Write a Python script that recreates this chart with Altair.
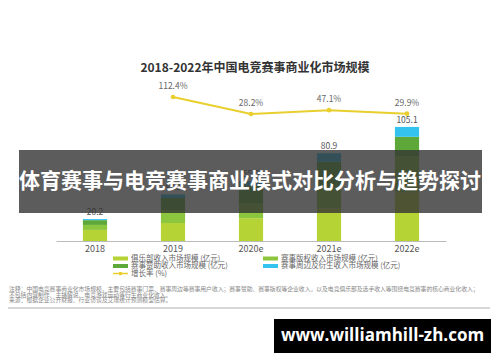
import altair as alt
import pandas as pd

# ---------------- data ----------------
years = ["2018", "2019", "2020e", "2021e", "2022e"]
club = [10.2, 16.6, 21.0, 30.0, 45.0]
rights = [4.6, 12.0, 14.0, 20.0, 33.0]
sponsor = [4.4, 11.0, 16.0, 23.0, 18.0]
merch = [1.0, 3.3, 4.0, 7.9, 9.1]
totals = [20.2, 42.9, 55.0, 80.9, 105.1]
growth_years = ["2019", "2020e", "2021e", "2022e"]
growth = [112.4, 28.2, 47.1, 29.9]
series_names = ["俱乐部收入市场规模（亿元）", "赛事版权收入市场规模（亿元）",
                "赛事赞助收入市场规模（亿元）", "赛事周边及衍生收入市场规模（亿元）"]
growth_name = "增长率（%）"
title_text = "2018-2022年中国电竞赛事商业化市场规模"
notes = [
    "注释：中国电竞赛事商业化市场规模，主要包括赛事门票、赛事周边等赛事用户收入；赛事赞助、赛事版权等企业收入，以及电竞俱乐部及选手收入等围绕电竞赛事的核心商业化收入；",
    "不包括内容制作、主播解说、电竞游戏运动等衍生商业化收入。",
    "来源：根据企业公开财报、行业访谈及艾瑞统计预测模型估算。",
]
banner_text = "体育赛事与电竞赛事商业模式对比分析与趋势探讨"
watermark_text = "www.williamhill-zh.com"

colors = ["#b5d334", "#8cc63f", "#5ea83a", "#33c3ee"]
line_color = "#e9cf2e"
FONT = "Noto Sans CJK SC"

# ---------------- tables ----------------
rows = []
for i, name in enumerate(series_names):
    vals = [club, rights, sponsor, merch][i]
    for y, v in zip(years, vals):
        rows.append({"year": y, "series": name, "value": v, "order": i})
bars_df = pd.DataFrame(rows)
tot_df = pd.DataFrame({"year": years, "total": totals})
gr_df = pd.DataFrame({"year": growth_years, "growth": growth,
                      "label": [f"{g:.1f}%" for g in growth]})

W, H = 390, 163
x_enc = alt.X("year:N", sort=years,
              scale=alt.Scale(paddingInner=0.69, paddingOuter=0.345),
              axis=alt.Axis(title=None, labelAngle=0, ticks=False, domainColor="#bbbbbb",
                            labelColor="#555555", labelFontSize=9, labelPadding=3,
                            labelFont=FONT, grid=False))
y_bar_scale = alt.Scale(domain=[0, 150.2], nice=False, zero=True)
y_gr_scale = alt.Scale(domain=[-600.5, 206.4], nice=False, zero=False)

bars = alt.Chart(bars_df).mark_bar().encode(
    x=x_enc,
    y=alt.Y("value:Q", stack="zero", scale=y_bar_scale, axis=None),
    color=alt.Color("series:N", scale=alt.Scale(domain=series_names, range=colors), legend=None),
    order=alt.Order("order:Q", sort="ascending"),
)
tot_text = alt.Chart(tot_df).mark_text(dy=-7, fontSize=8.5, color="#555555", font=FONT).encode(
    x=x_enc,
    y=alt.Y("total:Q", scale=y_bar_scale, axis=None),
    text=alt.Text("total:Q", format=".1f"),
)
line = alt.Chart(gr_df).mark_line(color=line_color, strokeWidth=2).encode(
    x=x_enc,
    y=alt.Y("growth:Q", scale=y_gr_scale, axis=None),
)
pts = alt.Chart(gr_df).mark_point(filled=True, color=line_color, size=22, opacity=1).encode(
    x=x_enc,
    y=alt.Y("growth:Q", scale=y_gr_scale, axis=None),
)
gr_text = alt.Chart(gr_df).mark_text(dy=-11, fontSize=8.5, color="#666666", font=FONT).encode(
    x=x_enc,
    y=alt.Y("growth:Q", scale=y_gr_scale, axis=None),
    text="label:N",
)

one = pd.DataFrame({"d": [0]})


def txt(s, x, y, size, color, weight="normal", align="left", font=FONT):
    return alt.Chart(one).mark_text(text=s, fontSize=size, color=color, fontWeight=weight,
                                    align=align, baseline="middle", font=font).encode(
        x=alt.value(x), y=alt.value(y))


def rect(x1, x2, y1, y2, color, opacity=1.0):
    return alt.Chart(one).mark_rect(color=color, opacity=opacity).encode(
        x=alt.value(x1), x2=alt.value(x2), y=alt.value(y1), y2=alt.value(y2))


annos = []
# title
annos.append(txt(title_text, 199, -10, 12, "#333333", weight="bold", align="center"))
# legend
leg_pos = [(57, 180.5), (207, 180.5), (57, 188), (207, 188)]
for i, (lx, ly) in enumerate(leg_pos):
    annos.append(rect(lx, lx + 15, ly - 2, ly + 2, colors[i]))
    annos.append(txt(series_names[i].replace("（", " (").replace("）", ")"),
                     lx + 18, ly, 7.5, "#666666"))
annos.append(alt.Chart(one).mark_rule(color=line_color, strokeWidth=1.5).encode(
    x=alt.value(57), x2=alt.value(72), y=alt.value(195.5)))
annos.append(alt.Chart(one).mark_point(filled=True, color=line_color, size=14, opacity=1).encode(
    x=alt.value(64.5), y=alt.value(195.5)))
annos.append(txt(growth_name.replace("（", " (").replace("）", ")"), 75, 195.5, 7.5, "#666666"))
# notes
for i, n in enumerate(notes):
    annos.append(txt(n, -47, 211 + i * 5.5, 5.8, "#888888"))
annos.append(alt.Chart(one).mark_rule(color="#999999", strokeWidth=0.8).encode(
    x=alt.value(-48), x2=alt.value(434), y=alt.value(230)))
# banner overlay
annos.append(rect(-37, 426, 72, 135, "#333333", 0.8))
annos.append(txt(banner_text, 194, 104, 21, "#ffffff", weight="bold", align="center"))
# watermark
annos.append(rect(218, 435, 241, 275, "#000000"))
annos.append(txt(watermark_text, 326.5, 258, 17, "#ffffff", weight="bold", align="center",
                 font="Open Sans"))

chart = alt.layer(bars, tot_text, line, pts, gr_text, *annos).resolve_scale(
    y="independent"
).properties(
    width=W, height=H,
    padding={"left": 48, "top": 70, "right": 46, "bottom": 113},
    autosize=alt.AutoSizeParams(type="none"),
    background="#ffffff",
).configure_view(stroke=None)

chart.save("out.html", embed_options={"renderer": "svg", "actions": False})
